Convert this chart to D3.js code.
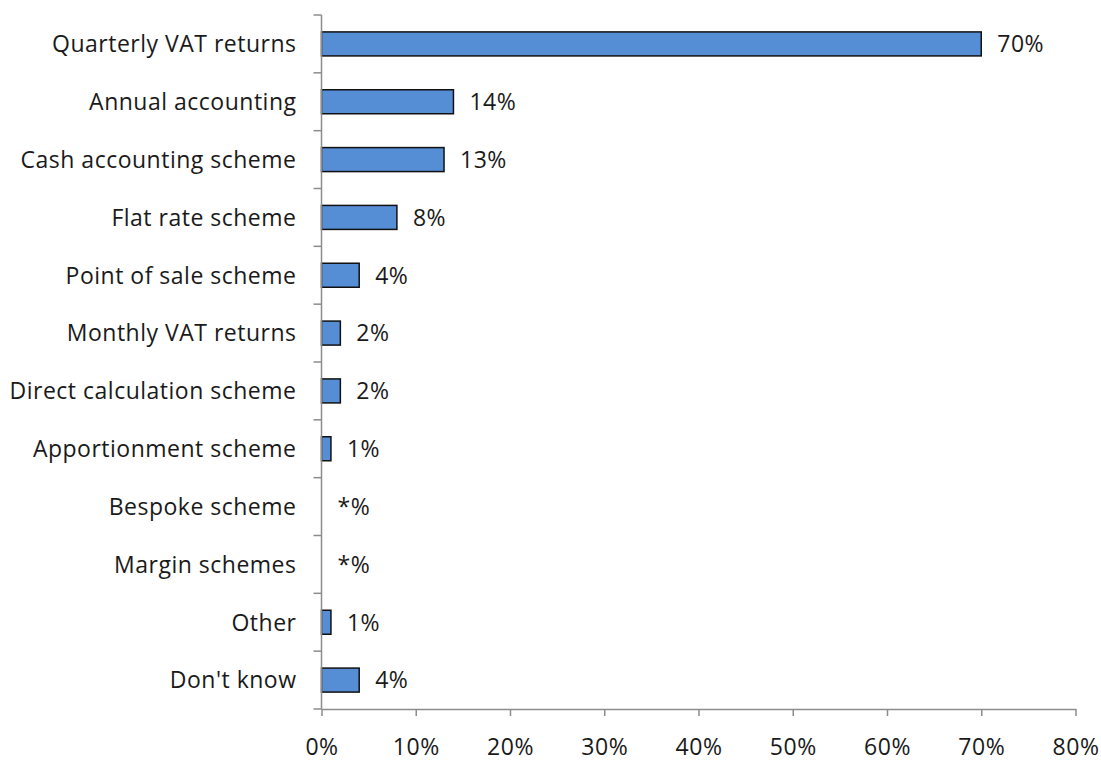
<!DOCTYPE html>
<html>
<head>
<meta charset="utf-8">
<script src="https://cdn.jsdelivr.net/npm/d3@7"></script>
<style>
  html, body { margin: 0; padding: 0; background: #fff; }
  svg text { font-family: "Open Sans", Lato, sans-serif; fill: #1a1a1a; letter-spacing: 0.5px; }
</style>
</head>
<body>
<svg id="chart" width="1101" height="761"></svg>
<script>
// VAT schemes used (share of respondents)
const categories = [
  "Quarterly VAT returns", "Annual accounting", "Cash accounting scheme",
  "Flat rate scheme", "Point of sale scheme", "Monthly VAT returns",
  "Direct calculation  scheme", "Apportionment scheme", "Bespoke scheme",
  "Margin schemes", "Other", "Don't know"
];
const values = [70, 14, 13, 8, 4, 2, 2, 1, 0, 0, 1, 4];
const valueLabels = ["70%", "14%", "13%", "8%", "4%", "2%", "2%", "1%", "*%", "*%", "1%", "4%"];
const xTicks = [0, 10, 20, 30, 40, 50, 60, 70, 80];

const fontSize = 23;
const axisColor = "#8c8c8c";
const plotTop = 15, plotBottom = 709, plotLeft = 321.5, plotRight = 1075.5;
const svg = d3.select("#chart");

const x = d3.scaleLinear().domain([0, 80]).range([plotLeft, plotRight]);
const y = d3.scaleBand().domain(categories).range([plotTop, plotBottom]).paddingInner(0.585).paddingOuter(0.2925);

const rows = categories.map((c, i) => ({ c, v: values[i], l: valueLabels[i] }));

// bars
svg.append("g").selectAll("rect")
  .data(rows.filter(d => d.v > 0))
  .join("rect")
  .attr("x", x(0))
  .attr("y", d => y(d.c))
  .attr("width", d => x(d.v) - x(0))
  .attr("height", y.bandwidth())
  .attr("fill", "#558ed5")
  .attr("stroke", "#111")
  .attr("stroke-width", 1.5);

// value labels
svg.append("g").selectAll("text")
  .data(rows)
  .join("text")
  .attr("x", d => x(d.v) + 16)
  .attr("y", d => y(d.c) + y.bandwidth() / 2)
  .attr("dy", "0.36em")
  .attr("font-size", fontSize)
  .text(d => d.l);

// y axis: line with ticks at category boundaries
const yAxis = svg.append("g");
yAxis.append("line")
  .attr("x1", x(0)).attr("x2", x(0))
  .attr("y1", plotTop).attr("y2", plotBottom)
  .attr("stroke", axisColor).attr("stroke-width", 1.5);
const bounds = d3.range(categories.length + 1).map(i => plotTop + i * (plotBottom - plotTop) / categories.length);
yAxis.selectAll("line.tick")
  .data(bounds)
  .join("line")
  .attr("class", "tick")
  .attr("x1", x(0) - 8).attr("x2", x(0))
  .attr("y1", d => d).attr("y2", d => d)
  .attr("stroke", axisColor).attr("stroke-width", 1.5);
yAxis.selectAll("text")
  .data(categories)
  .join("text")
  .attr("x", x(0) - 25)
  .attr("y", d => y(d) + y.bandwidth() / 2)
  .attr("dy", "0.36em")
  .attr("text-anchor", "end")
  .attr("font-size", fontSize)
  .text(d => d);

// x axis
const xAxis = svg.append("g")
  .attr("transform", `translate(0,${plotBottom})`)
  .call(d3.axisBottom(x).tickValues(xTicks).tickFormat(d => d + "%").tickSize(7).tickSizeOuter(0).tickPadding(23));
xAxis.select(".domain").attr("stroke", axisColor).attr("stroke-width", 1.5);
xAxis.selectAll(".tick line").attr("stroke", axisColor).attr("stroke-width", 1.5);
xAxis.selectAll(".tick text").attr("font-size", fontSize).attr("fill", "#1a1a1a")
  .style("font-family", "'Open Sans', Lato, sans-serif");
</script>
</body>
</html>
